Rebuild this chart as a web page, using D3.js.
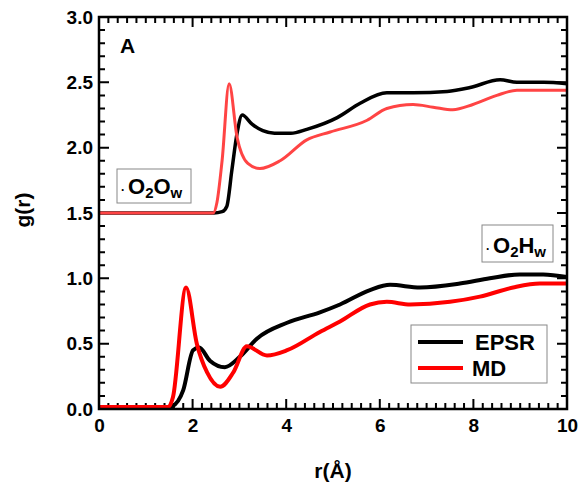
<!DOCTYPE html>
<html>
<head>
<meta charset="utf-8">
<script src="https://cdn.jsdelivr.net/npm/d3@7"></script>
<style>
  body { margin: 0; background: #fff; }
  text { font-family: "Liberation Sans", Arial, sans-serif; font-weight: bold; }
</style>
</head>
<body>
<div id="wrapper"></div>
<script>
// O2Ow curves (shifted by +1.5)
const epsrOOr = [0, 2.45, 2.63, 2.73, 2.84, 2.95, 3.06, 3.27, 3.5, 3.75, 4.1, 4.44, 5.09, 5.58, 6.15, 6.71, 7.44, 7.93, 8.57, 8.93, 9.5, 10]
const epsrOOg = [1.5, 1.5, 1.51, 1.55, 1.83, 2.11, 2.25, 2.18, 2.13, 2.11, 2.11, 2.14, 2.23, 2.34, 2.42, 2.42, 2.43, 2.46, 2.52, 2.50, 2.50, 2.49]
const mdOOr = [0, 2.44, 2.52, 2.63, 2.78, 2.95, 3.18, 3.44, 3.87, 4.44, 4.94, 5.73, 6.15, 6.71, 7.14, 7.56, 7.99, 8.5, 8.93, 9.5, 10]
const mdOOg = [1.5, 1.5, 1.58, 1.9, 2.49, 2.08, 1.88, 1.84, 1.9, 2.06, 2.12, 2.21, 2.30, 2.33, 2.31, 2.29, 2.33, 2.40, 2.44, 2.44, 2.44]
// O2Hw curves
const epsrOHr = [0, 1.5, 1.56, 1.8, 2.01, 2.14, 2.37, 2.69, 3.01, 3.38, 4.02, 4.72, 5.15, 5.79, 6.22, 6.86, 7.71, 8.35, 8.99, 9.49, 10]
const epsrOHg = [0.015, 0.015, 0.02, 0.145, 0.45, 0.47, 0.37, 0.32, 0.40, 0.54, 0.66, 0.74, 0.80, 0.91, 0.95, 0.93, 0.96, 1.00, 1.03, 1.03, 1.01]
const mdOHr = [0, 1.48, 1.58, 1.86, 2.09, 2.31, 2.59, 2.87, 3.16, 3.59, 4.02, 4.72, 5.15, 5.79, 6.15, 6.65, 7.5, 8.14, 8.85, 9.42, 10]
const mdOHg = [0.015, 0.015, 0.09, 0.93, 0.50, 0.28, 0.17, 0.28, 0.48, 0.41, 0.45, 0.59, 0.67, 0.80, 0.82, 0.80, 0.82, 0.86, 0.93, 0.96, 0.96]

const seriesNames = ["EPSR", "MD"]
const xTicks = [0, 2, 4, 6, 8, 10]
const yTicks = [0, 0.5, 1.0, 1.5, 2.0, 2.5, 3.0]

const dims = { width: 583, height: 484, margin: { top: 17, right: 16, bottom: 75, left: 99 } }
dims.boundedWidth = dims.width - dims.margin.left - dims.margin.right
dims.boundedHeight = dims.height - dims.margin.top - dims.margin.bottom

const svg = d3.select("#wrapper").append("svg").attr("width", dims.width).attr("height", dims.height)
const bounds = svg.append("g").attr("transform", `translate(${dims.margin.left},${dims.margin.top})`)

const xScale = d3.scaleLinear().domain([0, 10]).range([0, dims.boundedWidth])
const yScale = d3.scaleLinear().domain([0, 3]).range([dims.boundedHeight, 0])

// inward ticks, drawn from the scales (minor every 0.2 / 0.1)
const xMinor = d3.range(0, 51).map(i => i * 0.2)
const yMinor = d3.range(0, 31).map(i => i * 0.1)
const isMajorX = d => xTicks.some(t => Math.abs(t - d) < 1e-6)
const isMajorY = d => yTicks.some(t => Math.abs(t - d) < 1e-6)

const ticks = []
xMinor.forEach(d => {
    const len = isMajorX(d) ? 10 : 6
    ticks.push([xScale(d), dims.boundedHeight, xScale(d), dims.boundedHeight - len])
    ticks.push([xScale(d), 0, xScale(d), len])
})
yMinor.forEach(d => {
    const len = isMajorY(d) ? 10 : 6
    ticks.push([0, yScale(d), len, yScale(d)])
    ticks.push([dims.boundedWidth, yScale(d), dims.boundedWidth - len, yScale(d)])
})
bounds.append("path")
    .attr("d", ticks.map(t => `M${t[0]},${t[1]}L${t[2]},${t[3]}`).join(""))
    .attr("fill", "none")
    .attr("stroke", "#000")
    .attr("stroke-width", 2)

// curves
const lineGen = d3.line()
    .x(d => xScale(d[0]))
    .y(d => yScale(d[1]))
    .curve(d3.curveMonotoneX)

const curves = [
    { r: epsrOOr, g: epsrOOg, color: "#000", w: 3.5 },
    { r: mdOOr, g: mdOOg, color: "#ff4444", w: 3 },
    { r: epsrOHr, g: epsrOHg, color: "#000", w: 4 },
    { r: mdOHr, g: mdOHg, color: "#ff0000", w: 4 },
]
curves.forEach(c => {
    bounds.append("path")
        .attr("d", lineGen(d3.zip(c.r, c.g)))
        .attr("fill", "none")
        .attr("stroke", c.color)
        .attr("stroke-width", c.w)
        .attr("stroke-linejoin", "round")
})

// frame
bounds.append("rect")
    .attr("width", dims.boundedWidth).attr("height", dims.boundedHeight)
    .attr("fill", "none").attr("stroke", "#000").attr("stroke-width", 2.5)

// tick labels through d3 axes
const xAxis = bounds.append("g").attr("transform", `translate(0,${dims.boundedHeight})`)
    .call(d3.axisBottom(xScale).tickValues(xTicks).tickSize(0).tickPadding(10))
xAxis.select(".domain").remove()
xAxis.selectAll("text").attr("font-size", 19).attr("fill", "#000")

const yAxis = bounds.append("g")
    .call(d3.axisLeft(yScale).tickValues(yTicks).tickSize(0).tickPadding(6).tickFormat(d3.format(".1f")))
yAxis.select(".domain").remove()
yAxis.selectAll("text").attr("font-size", 19).attr("fill", "#000")

// panel letter
bounds.append("text").attr("x", 21).attr("y", 36).attr("font-size", 21).text("A")

// labelled boxes
function labelBox(x, y, w, h, sub) {
    const box = bounds.append("g").attr("transform", `translate(${x},${y})`)
    box.append("rect").attr("width", w).attr("height", h)
        .attr("fill", "#fff").attr("stroke", "#888").attr("stroke-width", 1)
    const t = box.append("text").attr("x", 4).attr("y", h - 9).attr("font-size", 22)
    t.append("tspan").attr("font-size", 12).text("·")
    t.append("tspan").attr("dx", 3).text("O")
    t.append("tspan").attr("font-size", 15).attr("dy", 4).text("2")
    t.append("tspan").attr("dy", -4).text(sub[0])
    t.append("tspan").attr("font-size", 15).attr("dy", 4).text(sub[1])
}
labelBox(18, 152, 74, 34, ["O", "w"])
labelBox(383, 208, 71, 37, ["H", "w"])

// legend
const legend = bounds.append("g").attr("transform", "translate(312,308)")
legend.append("rect").attr("width", 136).attr("height", 58)
    .attr("fill", "#fff").attr("stroke", "#888").attr("stroke-width", 1)
const legendColors = ["#000", "#ff0000"]
seriesNames.forEach((name, i) => {
    legend.append("line")
        .attr("x1", 7).attr("x2", 52)
        .attr("y1", 17 + i * 26).attr("y2", 17 + i * 26)
        .attr("stroke", legendColors[i]).attr("stroke-width", 4)
    legend.append("text")
        .attr("x", i === 0 ? 64 : 61).attr("y", 25 + i * 26)
        .attr("font-size", 22)
        .text(name)
})

// axis titles
svg.append("text")
    .attr("x", dims.margin.left + dims.boundedWidth / 2)
    .attr("y", 478)
    .attr("text-anchor", "middle")
    .attr("font-size", 21)
    .text("r(Å)")

svg.append("text")
    .attr("transform", `translate(30,${dims.margin.top + dims.boundedHeight / 2 - 3}) rotate(-90)`)
    .attr("text-anchor", "middle")
    .attr("font-size", 21)
    .text("g(r)")
</script>
</body>
</html>
